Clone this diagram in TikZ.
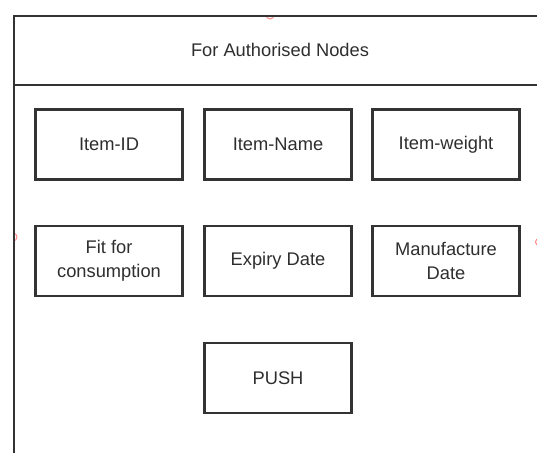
\documentclass[tikz,border=0pt]{standalone}
\usepackage{fontspec}
\setmainfont{Liberation Sans}
\begin{document}
\begin{tikzpicture}[x=1pt,y=-1pt,
  ink/.style={draw=black!80, line width=2.3pt},
  label/.style={text=black!82, font=\fontsize{18.3}{24}\selectfont},
  field/.style={ink, label, rectangle, minimum width=147pt, minimum height=70pt,
    align=center, inner sep=2pt},
  pin/.style={draw=pink!70!red, line width=1pt}]
  \useasboundingbox (0,0) rectangle (537,453);
  % connection markers, only their inner halves show past the frame
  \begin{scope}
    \clip (14,16) rectangle (537,453);
    \draw[pin] (270,15) circle (4);
    \draw[pin] (13,237) circle (4);
  \end{scope}
  \draw[pin] (539,242) circle (3.5);
  % outer frame and header separator
  \coordinate (tl) at (14,16);
  \coordinate (tr) at (537,16);
  \coordinate (bl) at (14,453);
  \coordinate (hl) at (14,85);
  \coordinate (hr) at (537,85);
  \draw[ink] (bl) -- (tl) -- (tr);
  \draw[ink] (hl) -- (hr);
  \node[label] (title) at (280,50) {For Authorised Nodes};
  % data fields
  \node[field] (id) at (109,144.5) {Item-ID};
  \node[field] (name) at (278,144.5) {Item-Name};
  \node[field] (weight) at (446,144.5) {Item-weight};
  \node[field] (fit) at (109,261) {Fit for\\consumption};
  \node[field] (expiry) at (278,261) {Expiry Date};
  \node[field] (mfg) at (446,261) {Manufacture\\Date};
  \node[field] (push) at (278,378) {PUSH};
\end{tikzpicture}
\end{document}
